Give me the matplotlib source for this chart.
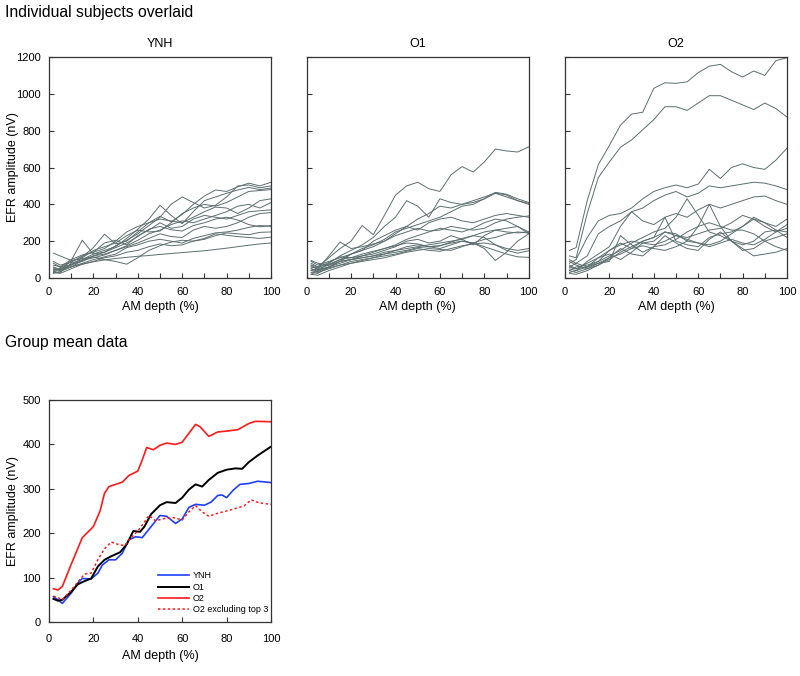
import matplotlib
matplotlib.use("Agg")
import matplotlib.pyplot as plt
import numpy as np

plt.rcParams['font.family'] = ['Liberation Sans', 'DejaVu Sans']

# ---------------- data ----------------
am_depth = [2, 5, 10, 15, 20, 25, 30, 35, 40, 45, 50, 55, 60, 65, 70, 75, 80, 85, 90, 95, 100]

ynh_subjects = [
    [40, 50, 62, 75, 88, 98, 106, 112, 118, 122, 128, 133, 138, 143, 148, 155, 162, 170, 178, 185, 190],
    [135, 120, 95, 105, 115, 100, 90, 75, 110, 150, 175, 195, 205, 200, 215, 240, 232, 225, 220, 215, 222],
    [50, 40, 95, 205, 130, 140, 165, 190, 225, 265, 280, 262, 255, 285, 300, 320, 330, 315, 290, 278, 285],
    [30, 55, 90, 115, 165, 238, 185, 200, 250, 300, 335, 305, 345, 400, 445, 478, 470, 495, 515, 500, 520],
    [35, 30, 80, 100, 130, 150, 170, 215, 265, 320, 395, 340, 295, 360, 420, 440, 460, 478, 492, 480, 488],
    [60, 45, 70, 110, 150, 170, 190, 230, 260, 250, 255, 300, 350, 380, 400, 390, 410, 440, 470, 475, 480],
    [90, 70, 85, 120, 140, 160, 200, 250, 280, 300, 320, 310, 300, 330, 360, 385, 380, 350, 380, 420, 430],
    [25, 35, 60, 95, 110, 125, 150, 175, 205, 240, 260, 290, 310, 300, 320, 340, 360, 390, 400, 380, 410],
    [70, 60, 100, 125, 140, 190, 205, 180, 230, 260, 300, 270, 280, 320, 340, 330, 320, 340, 360, 365, 370],
    [45, 50, 75, 90, 120, 130, 150, 170, 190, 215, 240, 225, 220, 260, 280, 270, 280, 300, 330, 350, 355],
    [55, 40, 60, 80, 100, 115, 130, 165, 180, 200, 210, 200, 190, 215, 230, 245, 250, 260, 275, 285, 280],
    [30, 25, 50, 75, 90, 110, 120, 140, 150, 170, 185, 175, 180, 200, 210, 230, 245, 240, 235, 248, 250],
    [80, 60, 70, 95, 120, 140, 175, 205, 240, 285, 330, 400, 440, 410, 380, 395, 440, 500, 505, 490, 500],
]

o1_subjects = [
    [70, 60, 110, 160, 200, 285, 235, 340, 450, 500, 520, 485, 470, 560, 605, 575, 630, 700, 690, 684, 712],
    [50, 40, 80, 120, 150, 180, 220, 280, 330, 420, 390, 330, 430, 410, 400, 410, 430, 460, 440, 420, 405],
    [40, 50, 120, 195, 160, 170, 185, 200, 240, 280, 320, 350, 390, 380, 400, 420, 440, 462, 450, 420, 400],
    [90, 70, 90, 110, 130, 160, 180, 210, 250, 270, 290, 310, 330, 360, 390, 400, 430, 465, 455, 430, 410],
    [60, 50, 70, 100, 130, 150, 170, 200, 230, 250, 270, 255, 260, 280, 270, 260, 270, 300, 320, 330, 337],
    [30, 25, 60, 90, 100, 120, 140, 160, 180, 210, 230, 250, 270, 260, 250, 270, 300, 320, 310, 280, 250],
    [80, 60, 75, 100, 110, 120, 130, 150, 170, 200, 210, 190, 200, 230, 210, 180, 230, 260, 250, 245, 250],
    [20, 40, 55, 70, 80, 95, 110, 130, 150, 160, 170, 180, 190, 200, 210, 230, 220, 180, 150, 135, 148],
    [50, 35, 60, 80, 100, 110, 120, 130, 140, 150, 165, 170, 175, 190, 200, 190, 170, 150, 130, 115, 112],
    [95, 80, 70, 90, 100, 110, 120, 140, 150, 170, 180, 170, 160, 180, 200, 190, 160, 95, 140, 200, 240],
    [40, 30, 50, 70, 90, 100, 110, 120, 130, 145, 160, 150, 145, 160, 175, 185, 190, 180, 160, 150, 160],
    [20, 15, 40, 60, 80, 90, 100, 110, 125, 140, 150, 160, 155, 150, 170, 190, 210, 220, 240, 250, 245],
    [60, 55, 85, 115, 110, 130, 145, 160, 175, 190, 185, 170, 175, 195, 215, 230, 250, 260, 270, 280, 240],
    [70, 45, 60, 90, 130, 150, 200, 230, 260, 280, 260, 300, 320, 330, 310, 300, 320, 340, 350, 340, 330],
]

o2_subjects = [
    [150, 165, 420, 615, 720, 830, 890, 900, 1030, 1060, 1057, 1065, 1115, 1150, 1160, 1120, 1091, 1124, 1100, 1180, 1196],
    [120, 110, 350, 545, 630, 710, 750, 805, 860, 930, 930, 910, 950, 990, 990, 965, 940, 915, 950, 920, 874],
    [80, 100, 220, 310, 340, 350, 380, 430, 470, 490, 505, 490, 510, 590, 540, 600, 620, 600, 590, 640, 705],
    [60, 80, 120, 240, 280, 310, 360, 380, 420, 450, 470, 440, 460, 500, 490, 500, 510, 520, 515, 500, 480],
    [50, 40, 90, 130, 170, 280, 360, 310, 290, 330, 350, 330, 370, 400, 380, 400, 420, 440, 445, 420, 400],
    [30, 40, 60, 90, 150, 190, 160, 200, 220, 330, 200, 180, 170, 220, 240, 250, 280, 320, 300, 280, 320],
    [60, 50, 80, 110, 150, 180, 200, 190, 200, 250, 240, 200, 280, 400, 280, 200, 180, 200, 250, 260, 250],
    [40, 60, 70, 90, 120, 150, 190, 220, 250, 270, 330, 430, 340, 250, 230, 200, 150, 160, 200, 220, 240],
    [90, 70, 50, 70, 100, 140, 170, 200, 220, 250, 230, 210, 190, 180, 200, 240, 280, 330, 300, 260, 220],
    [25, 20, 40, 70, 110, 160, 130, 120, 170, 180, 210, 250, 280, 300, 280, 260, 260, 240, 200, 170, 150],
    [70, 50, 60, 110, 130, 100, 140, 190, 180, 200, 230, 220, 240, 260, 270, 300, 340, 320, 280, 250, 270],
    [40, 30, 50, 80, 110, 130, 160, 175, 160, 150, 170, 200, 190, 170, 190, 210, 190, 180, 210, 250, 290],
    [100, 80, 60, 80, 90, 230, 180, 140, 170, 230, 190, 160, 150, 210, 250, 200, 160, 120, 130, 140, 160],
]

# group means
ynh_x = [2, 4, 6, 10, 13, 15, 19, 22, 24, 27, 30, 33, 36, 39, 42, 46, 50, 53, 57, 60, 63, 66, 70, 73, 76, 78, 80, 83, 86, 90, 94, 100]
ynh_mean = [57, 50, 42, 65, 88, 98, 97, 110, 128, 140, 140, 155, 185, 192, 190, 215, 240, 238, 222, 232, 258, 265, 263, 270, 285, 286, 280, 297, 310, 312, 317, 314]

o1_x = [2, 4, 6, 10, 13, 16, 19, 22, 25, 28, 32, 35, 38, 41, 43, 46, 50, 53, 57, 60, 63, 66, 69, 72, 76, 80, 84, 87, 90, 94, 100]
o1_mean = [52, 48, 50, 68, 85, 92, 98, 125, 140, 148, 157, 175, 205, 203, 215, 243, 263, 270, 268, 280, 298, 310, 305, 320, 336, 343, 346, 345, 360, 375, 395]

o2_x = [2, 4, 6, 10, 15, 18, 20, 23, 25, 27, 30, 33, 36, 40, 42, 44, 47, 50, 53, 57, 60, 63, 66, 68, 72, 76, 80, 85, 90, 93, 100]
o2_mean = [75, 72, 80, 130, 190, 205, 215, 250, 290, 305, 310, 315, 330, 340, 365, 393, 388, 398, 403, 400, 405, 425, 445, 440, 418, 428, 430, 433, 447, 452, 451]

o2ex_x = [2, 4, 6, 10, 13, 16, 19, 22, 25, 28, 31, 34, 37, 40, 43, 45, 48, 52, 56, 60, 63, 66, 69, 72, 76, 80, 85, 88, 91, 95, 100]
o2ex_mean = [58, 55, 50, 72, 90, 108, 110, 140, 165, 180, 175, 172, 190, 205, 225, 240, 228, 233, 235, 230, 248, 262, 248, 238, 245, 250, 257, 262, 275, 268, 265]

panel_titles = ['YNH', 'O1', 'O2']
legend_labels = ['YNH', 'O1', 'O2', 'O2 excluding top 3']

# ---------------- figure ----------------
fig = plt.figure(figsize=(8, 6.76), dpi=100)
W, H = 800, 676

def ax_rect(l, r, t, b):
    return [l / W, 1 - b / H, (r - l) / W, (b - t) / H]

sub_color = '#5c6e6e'
spine_color = '#333333'

def style_axes(ax):
    for s in ax.spines.values():
        s.set_color(spine_color)
        s.set_linewidth(0.9)
    ax.tick_params(direction='in', length=3.5, width=0.8, color=spine_color, labelsize=8)
    ax.tick_params(axis='x', which='both', pad=6.5, direction='in', length=3.5)
    ax.tick_params(axis='y', pad=6)

lefts = [49, 306.7, 565]
data_sets = [ynh_subjects, o1_subjects, o2_subjects]
for i in range(3):
    ax = fig.add_axes(ax_rect(lefts[i], lefts[i] + 222, 57, 278))
    for curve in data_sets[i]:
        ax.plot(am_depth, curve, color=sub_color, lw=0.7)
    ax.set_xlim(0, 100)
    ax.set_ylim(0, 1200)
    ax.set_xticks(np.arange(0, 101, 20))
    ax.set_xticks(np.arange(10, 100, 20), minor=True)
    ax.set_yticks(np.arange(0, 1201, 200))
    style_axes(ax)
    ax.tick_params(axis='x', which='minor', direction='in', length=3.5, width=0.8, color=spine_color)
    ax.set_title(panel_titles[i], fontsize=9, pad=7)
    ax.set_xlabel('AM depth (%)', fontsize=9)
    ax.xaxis.set_label_coords(0.5, -0.105)
    if i == 0:
        ax.set_ylabel('EFR amplitude (nV)', fontsize=9)
        ax.yaxis.set_label_coords(-0.135, 0.5)
    else:
        ax.set_yticklabels([])

# bottom panel
axb = fig.add_axes(ax_rect(49, 271, 400, 622))
axb.plot(ynh_x, ynh_mean, color='#1f3fff', lw=1.2, label=legend_labels[0])
axb.plot(o1_x, o1_mean, color='black', lw=1.4, label=legend_labels[1])
axb.plot(o2_x, o2_mean, color='#ff1a1a', lw=1.2, label=legend_labels[2])
axb.plot(o2ex_x, o2ex_mean, color='#ff1a1a', lw=1.1, ls=(0, (1.6, 1.6)), label=legend_labels[3])
axb.set_xlim(0, 100)
axb.set_ylim(0, 500)
axb.set_xticks(np.arange(0, 101, 20))
axb.set_yticks(np.arange(0, 501, 100))
style_axes(axb)
axb.tick_params(axis='x', pad=9)
axb.set_xlabel('AM depth (%)', fontsize=9)
axb.xaxis.set_label_coords(0.5, -0.125)
axb.set_ylabel('EFR amplitude (nV)', fontsize=9)
axb.yaxis.set_label_coords(-0.135, 0.5)
axb.legend(loc='lower left', bbox_to_anchor=(0.49, 0.035), frameon=False, fontsize=6.5,
           handlelength=3.5, handletextpad=0.35, labelspacing=0.25, borderpad=0, borderaxespad=0)

fig.text(5 / W, 1 - 12.5 / H, 'Individual subjects overlaid', fontsize=11.3, va='center', ha='left')
fig.text(5 / W, 1 - 343 / H, 'Group mean data', fontsize=11.3, va='center', ha='left')

fig.savefig('out.png', dpi=100)
